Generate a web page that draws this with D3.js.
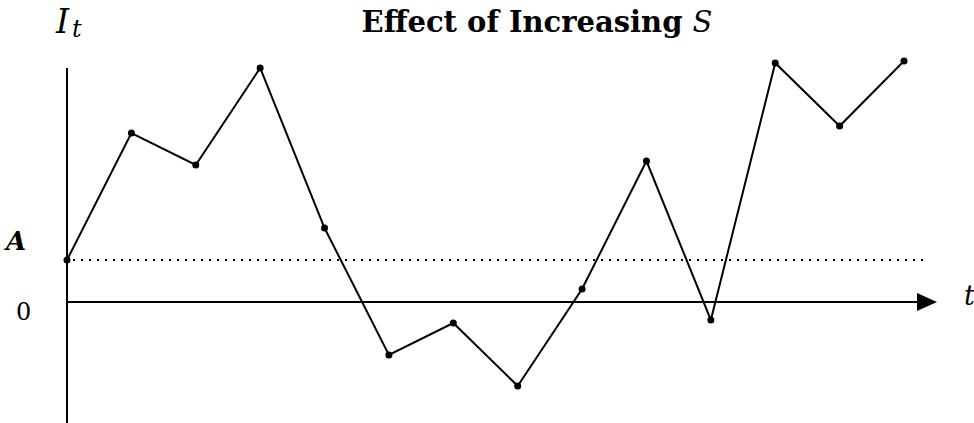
<!DOCTYPE html>
<html>
<head>
<meta charset="utf-8">
<script src="https://cdn.jsdelivr.net/npm/d3@7"></script>
<style>
  html, body { margin: 0; padding: 0; background: #fff; }
  svg { display: block; }
  text { font-family: "DejaVu Serif", "Liberation Serif", serif; fill: #000; }
</style>
</head>
<body>
<svg id="chart" width="974" height="423"></svg>
<script>
// ---- data ----
const periods = [0, 1, 2, 3, 4, 5, 6, 7, 8, 9, 10, 11, 12, 13];
const inventory = [42, 169, 137, 234, 74, -53, -21, -84, 13, 141, -18, 239, 176, 241];
const aLevel = 42;
const titleMain = "Effect of Increasing ";
const titleVar = "S";
const yAxisLabel = "I";
const yAxisSub = "t";
const xAxisLabel = "t";
const levelLabels = [{ text: "A", value: aLevel, italic: true }, { text: "0", value: 0, italic: false }];

// ---- layout ----
const svg = d3.select("#chart");
const x = d3.scaleLinear().domain([0, 13]).range([67, 904]);
const y = d3.scaleLinear().domain([-100, 250]).range([402, 52]);

// vertical axis
svg.append("line")
  .attr("x1", x(0)).attr("x2", x(0))
  .attr("y1", 68).attr("y2", 423)
  .attr("stroke", "#000").attr("stroke-width", 2);

// horizontal (time) axis with arrow
const axisEnd = 937;
svg.append("line")
  .attr("x1", x(0)).attr("x2", axisEnd - 18)
  .attr("y1", y(0)).attr("y2", y(0))
  .attr("stroke", "#000").attr("stroke-width", 2);
svg.append("path")
  .attr("d", `M${axisEnd},${y(0)} L${axisEnd - 20},${y(0) - 9} L${axisEnd - 20},${y(0) + 9} Z`)
  .attr("fill", "#000");

// dotted level A
svg.append("line")
  .attr("x1", x(0) + 6).attr("x2", 928)
  .attr("y1", y(aLevel)).attr("y2", y(aLevel))
  .attr("stroke", "#000").attr("stroke-width", 2)
  .attr("stroke-dasharray", "2,6");

// inventory path
const pts = periods.map((p, i) => [p, inventory[i]]);
svg.append("path")
  .datum(pts)
  .attr("d", d3.line().x(d => x(d[0])).y(d => y(d[1])))
  .attr("fill", "none").attr("stroke", "#000").attr("stroke-width", 2)
  .attr("stroke-linejoin", "miter");

svg.selectAll("circle.pt").data(pts).enter().append("circle")
  .attr("class", "pt")
  .attr("cx", d => x(d[0])).attr("cy", d => y(d[1]))
  .attr("r", 3.5).attr("fill", "#000");

// title
const title = svg.append("text")
  .attr("x", 537).attr("y", 32)
  .attr("text-anchor", "middle")
  .attr("font-size", 29).attr("font-weight", "bold");
title.append("tspan").text(titleMain);
title.append("tspan").attr("font-style", "italic").attr("font-weight", "normal").text(titleVar);

// y label I_t
const yl = svg.append("text").attr("x", 56).attr("y", 33)
  .attr("font-size", 33).attr("font-style", "italic");
yl.append("tspan").text(yAxisLabel);
yl.append("tspan").attr("font-size", 24).attr("dx", 3).attr("dy", 4).text(yAxisSub);

// level labels
svg.selectAll("text.lvl").data(levelLabels).enter().append("text")
  .attr("class", "lvl")
  .attr("x", d => d.italic ? 6 : 16)
  .attr("y", (d, i) => i === 0 ? 250 : 320)
  .attr("font-size", d => d.italic ? 26 : 24)
  .attr("font-style", d => d.italic ? "italic" : "normal")
  .attr("font-weight", d => d.italic ? "bold" : "normal")
  .text(d => d.text);

// x label t
svg.append("text").attr("x", 964).attr("y", 305)
  .attr("font-size", 27).attr("font-style", "italic")
  .text(xAxisLabel);
</script>
</body>
</html>
